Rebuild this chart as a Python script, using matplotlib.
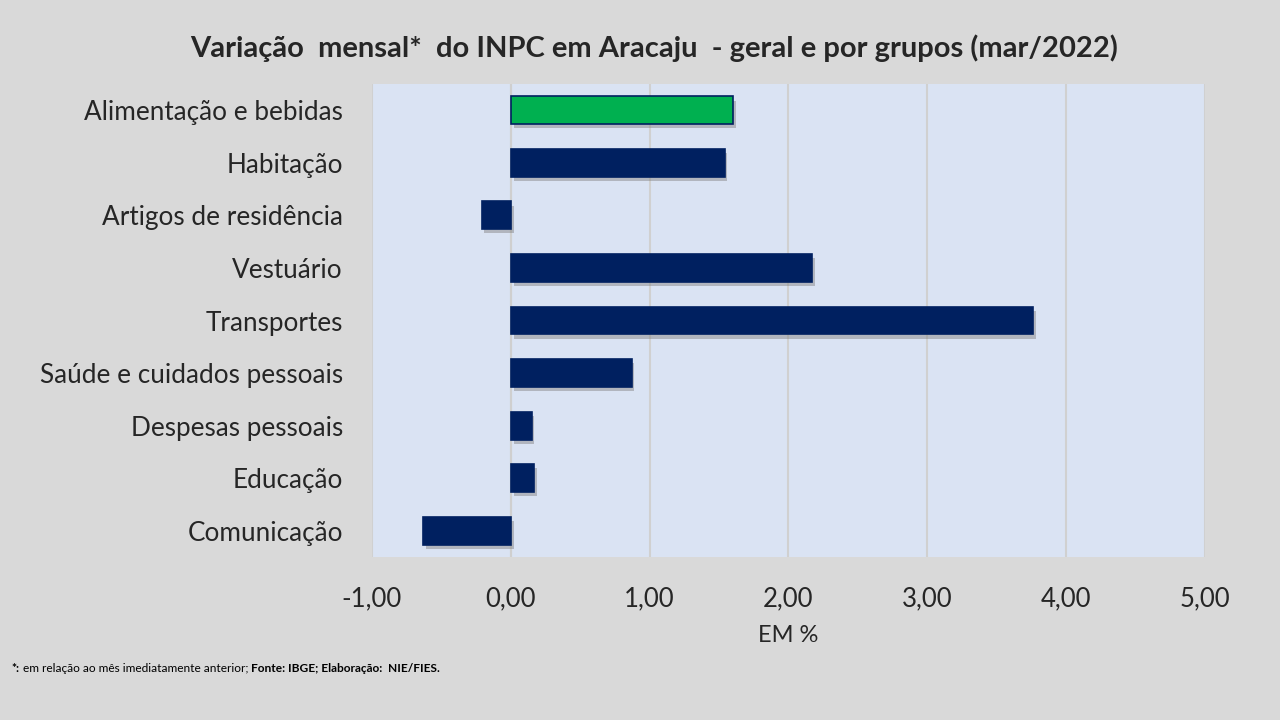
import matplotlib
matplotlib.use("Agg")
import matplotlib.pyplot as plt
import matplotlib.patheffects as pe
import numpy as np

categories = ["Alimentação e bebidas", "Habitação", "Artigos de residência", "Vestuário",
              "Transportes", "Saúde e cuidados pessoais", "Despesas pessoais", "Educação",
              "Comunicação"]
values = [1.60, 1.54, -0.21, 2.17, 3.76, 0.87, 0.15, 0.17, -0.63]
xticks = [-1, 0, 1, 2, 3, 4, 5]
xtick_labels = ["-1,00", "0,00", "1,00", "2,00", "3,00", "4,00", "5,00"]

plt.rcParams['font.family'] = ['Lato', 'DejaVu Sans']

fig = plt.figure(figsize=(12.8, 7.2), dpi=100, facecolor="#d9d9d9")
ax = fig.add_axes([0.2906, 0.2264, 0.6508, 0.6569])
ax.set_facecolor("#dae3f3")

y = np.arange(len(categories))
colors = ["#00b050"] + ["#002060"] * (len(categories) - 1)
bars = ax.barh(y, values, height=0.53, color=colors, edgecolor="#002060", linewidth=1.2, zorder=3)
for b in bars:
    b.set_path_effects([pe.SimplePatchShadow(offset=(2, -3), shadow_rgbFace="#7f7f7f", alpha=0.45), pe.Normal()])

ax.set_ylim(len(categories) - 0.5, -0.5)
ax.set_xlim(-1, 5)
ax.set_yticks(y)
ax.set_yticklabels(categories, fontsize=18.8, color="#262626")
ax.set_xticks(xticks)
ax.set_xticklabels(xtick_labels, fontsize=18.5, color="#262626")
ax.tick_params(axis="both", length=0)
ax.tick_params(axis="y", pad=21)
ax.tick_params(axis="x", pad=21)
ax.grid(axis="x", color="#d0d0d0", linewidth=1.5, zorder=0)
ax.set_axisbelow(True)
for s in ax.spines.values():
    s.set_visible(False)
ax.axvline(0, color="#cfcfcf", linewidth=1.5, zorder=1)

ax.set_xlabel("EM %", fontsize=17, color="#262626", labelpad=10)

fig.text(0.511, 0.933, "Variação  mensal*  do INPC em Aracaju  - geral e por grupos (mar/2022)",
         ha="center", va="center", fontsize=21, fontweight="bold", color="#262626")

fs = 8.6
yb = 0.067
t1 = fig.text(0.009, yb, "*:", fontsize=fs, fontweight="bold", color="black", va="baseline")
fig.canvas.draw()
r = fig.canvas.get_renderer()
bb1 = t1.get_window_extent(r)
t2 = fig.text(bb1.x1 / 1280, yb, " em relação ao mês imediatamente anterior; ", fontsize=fs,
              color="black", va="baseline")
fig.canvas.draw()
bb2 = t2.get_window_extent(r)
fig.text(bb2.x1 / 1280, yb, "Fonte: IBGE; Elaboração:  NIE/FIES.", fontsize=fs,
         fontweight="bold", color="black", va="baseline")

fig.savefig("out.png", dpi=100, facecolor=fig.get_facecolor())
